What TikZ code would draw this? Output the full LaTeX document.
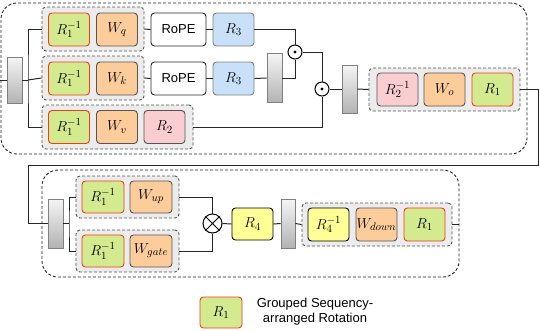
\documentclass[tikz,border=0pt]{standalone}
\usepackage{fontspec}
\newfontfamily\lsans{Liberation Sans}
\usetikzlibrary{shapes.geometric}
\definecolor{cgreen}{RGB}{212,234,143}
\definecolor{cred}{RGB}{240,60,30}
\definecolor{cpeach}{RGB}{252,204,155}
\definecolor{cblue}{RGB}{200,224,248}
\definecolor{cpink}{RGB}{250,205,208}
\definecolor{cyel}{RGB}{255,255,150}
\definecolor{cgrp}{RGB}{236,236,236}
\definecolor{cedge}{RGB}{85,85,85}
\tikzset{
  blk/.style={draw=cedge, line width=0.9pt, rounded corners=3.5pt, minimum width=41pt, minimum height=33pt, inner sep=0pt, font=\fontsize{15}{18}\selectfont},
  rg/.style={blk, fill=cgreen, draw=cred},
  wo/.style={blk, fill=cpeach},
  rb/.style={blk, fill=cblue, draw=gray},
  rp/.style={blk, fill=cpink},
  ry/.style={blk, fill=cyel, draw=black},
  rope/.style={blk, fill=white, draw=black!85, minimum width=55pt, font=\lsans\fontsize{13}{15}\selectfont},
  grp/.style={draw=cedge, fill=cgrp, dashed, dash pattern=on 3pt off 2pt, line width=0.9pt, rounded corners=4pt, minimum height=44pt, inner sep=0pt},
  outer/.style={draw=black!85, dashed, dash pattern=on 3pt off 2pt, line width=0.9pt, rounded corners=16pt, inner sep=0pt},
  bar/.style={draw=gray, line width=0.8pt, top color=gray!8, bottom color=gray!60, minimum width=15pt, minimum height=48pt, inner sep=0pt},
  dotc/.style={circle, draw=black, line width=1pt, fill=white, minimum size=14pt, inner sep=0pt},
  wire/.style={line width=1pt, draw=black!85},
}
\begin{document}
\begin{tikzpicture}[x=1pt,y=-1pt]
\useasboundingbox (0,0) rectangle (540,330);
% outer containers
\node[outer, minimum width=526pt, minimum height=151pt] (outA) at (264,78.5) {};
\node[outer, minimum width=417pt, minimum height=107pt] (outB) at (250.5,223.5) {};
% attention groups
\node[grp, minimum width=102pt] (g1) at (93,29) {};
\node[grp, minimum width=102pt] (g2) at (93,78) {};
\node[grp, minimum width=151pt] (g3) at (117.5,127) {};
\node[rg] (rq) at (69,29.5) {$R_1^{-1}$};
\node[wo] (wq) at (117,29.5) {$W_q$};
\node[rope] (ropeq) at (178.5,29.5) {RoPE};
\node[rb] (r3q) at (233.5,29.5) {$R_3$};
\node[rg] (rk) at (69,78.5) {$R_1^{-1}$};
\node[wo] (wk) at (117,78.5) {$W_k$};
\node[rope] (ropek) at (178.5,78.5) {RoPE};
\node[rb] (r3k) at (233.5,78.5) {$R_3$};
\node[rg] (rv) at (69,127) {$R_1^{-1}$};
\node[wo] (wv) at (117,127) {$W_v$};
\node[rp] (r2) at (164.5,127) {$R_2$};
\node[bar, minimum height=46pt] (bar1) at (14.5,80) {};
\node[bar, minimum height=49pt] (bar2) at (274.5,78) {};
\node[dotc] (d1) at (295,52) {};
\fill (d1.center) circle (1.7pt);
\node[dotc] (d2) at (322,89) {};
\fill (d2.center) circle (1.7pt);
\node[bar] (bar3) at (349.5,89) {};
\node[grp, minimum width=151pt, minimum height=43pt] (g4) at (444.5,89.5) {};
\node[rp] (r2i) at (397.5,89.5) {$R_2^{-1}$};
\node[wo] (wo) at (444.5,89.5) {$W_o$};
\node[rg] (r1o) at (492.5,89.5) {$R_1$};
% MLP
\node[bar, minimum height=49pt] (bar4) at (55.5,223.5) {};
\node[grp, minimum width=103pt, minimum height=42pt] (gu) at (127.5,197) {};
\node[grp, minimum width=103pt, minimum height=42pt] (gg) at (127.5,251) {};
\node[rg, minimum height=32pt, minimum width=42pt] (ru) at (103,197) {$R_1^{-1}$};
\node[wo, minimum height=32pt, minimum width=42pt] (wu) at (151,197) {$W_{up}$};
\node[rg, minimum height=32pt, minimum width=42pt] (rgt) at (103,251) {$R_1^{-1}$};
\node[wo, minimum height=32pt, minimum width=42pt] (wg) at (151,251) {$W_{gate}$};
\node[circle, draw=black, line width=1pt, fill=white, minimum size=19pt, inner sep=0pt] (ot) at (212.5,223.5) {};
\draw[line width=1pt] (ot.north east) -- (ot.south west) (ot.north west) -- (ot.south east);
\node[ry, minimum height=32pt] (r4) at (252.5,224) {$R_4$};
\node[bar, minimum width=14pt, minimum height=49pt] (bar5) at (288,223.5) {};
\node[grp, minimum width=150pt, minimum height=43pt] (g5) at (377,224.5) {};
\node[ry] (r4i) at (328.5,224.5) {$R_4^{-1}$};
\node[wo] (wd) at (376.5,224.5) {$W_{down}$};
\node[rg] (r1d) at (424.5,224.5) {$R_1$};
% legend
\node[rg, minimum height=31pt, minimum width=42pt] (leg) at (221,312.5) {$R_1$};
\node[font=\lsans\fontsize{13}{15.5}\selectfont, align=center, inner sep=0pt] (legt) at (315,311.5) {Grouped Sequency-\\arranged Rotation};
% wires
\coordinate (in) at (0,80);
\coordinate (br1) at (28,80);
\coordinate (tA) at (538,165);
\coordinate (tB) at (28,165);
\coordinate (br2) at (69,223.5);
\draw[wire] (in) -- (bar1.west);
\draw[wire] (bar1.east) -- (br1);
\draw[wire] (g1.west) -| (br1) |- (g3.west);
\draw[wire] (br1) -- (g2.west);
\draw[wire] (g1.east) -- (ropeq.west);
\draw[wire] (ropeq.east) -- (r3q.west);
\draw[wire] (g2.east) -- (ropek.west);
\draw[wire] (ropek.east) -- (r3k.west);
\draw[wire] (r3q.east) -| (d1.north);
\draw[wire] (r3k.east) -- (bar2.west);
\draw[wire] (bar2.east) -| (d1.south);
\draw[wire] (d1.east) -| (d2.north);
\draw[wire] (g3.east) -| (d2.south);
\draw[wire] (d2.east) -- (bar3.west);
\draw[wire] (bar3.east) -- (g4.west);
\draw[wire] (g4.east) -| (tA) -- (tB) |- (bar4.west);
\draw[wire] (bar4.east) -- (br2);
\draw[wire] (gu.west) -| (br2) |- (gg.west);
\draw[wire] (gu.east) -| (ot.north);
\draw[wire] (gg.east) -| (ot.south);
\draw[wire] (ot.east) -- (r4.west);
\draw[wire] (r4.east) -- (bar5.west);
\draw[wire] (bar5.east) -- (g5.west);
\draw[wire] (g5.east) -- (g5.east -| outB.east);
\end{tikzpicture}
\end{document}
